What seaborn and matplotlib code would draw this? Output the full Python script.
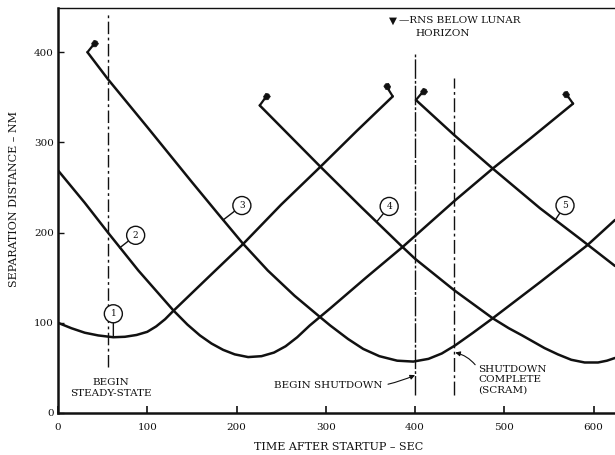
import numpy as np
import pandas as pd
import matplotlib
matplotlib.use('Agg')
import matplotlib.pyplot as plt
import seaborn as sns
from matplotlib.transforms import offset_copy

# ---------------- data ----------------
c1_t = [0, 15, 30, 45, 62, 75, 88, 100, 110, 120, 129, 170, 207, 250, 294, 335, 375]
c1_d = [100, 94, 89, 86, 84, 84.5, 86.5, 90, 96, 104, 113, 152, 187, 231, 273, 313, 351]

c2_t = [0, 30, 56, 90, 129, 145, 159, 172, 185, 198, 213, 228, 242, 255, 268, 282, 305, 345, 386, 444, 487, 530, 577]
c2_d = [269, 233, 200, 158, 114, 98, 86, 77, 70, 65, 62, 63, 67, 74, 84, 97, 116, 150, 184, 235, 271, 305, 343]

c3_t = [33, 56, 100, 150, 180, 207, 235, 265, 294, 305, 325, 342, 360, 380, 398, 415, 430, 445, 465, 487, 540, 593, 624]
c3_d = [400, 370, 317, 256, 220, 188, 158, 130, 106, 97, 82, 71, 63, 58, 57, 60, 66, 75, 89, 105, 145, 186, 214]

c4_t = [226, 260, 294, 340, 386, 400, 444, 487, 505, 520, 545, 560, 575, 590, 605, 615, 624]
c4_d = [341, 307, 273, 228, 184, 171, 136, 105, 94, 86, 72, 65, 59, 56, 56, 58, 61]

c5_t = [401, 444, 487, 540, 585, 624]
c5_d = [347, 308, 271, 227, 193, 163]

curve_ids = ['1', '2', '3', '4', '5']

steady_state_t = 56
begin_shutdown_t = 400
shutdown_complete_t = 444

x_ticks = [0, 100, 200, 300, 400, 500, 600]
x_ticklabels = ['0', '100', '200', '300', '400', '500', '600']
y_ticks = [0, 100, 200, 300, 400]
y_ticklabels = ['0', '100', '200', '300', '400']

# circled curve labels: (label, circle centre, point on curve)
circle_labels = [('1', (62, 110), (62, 84)),
                 ('2', (87, 197), (69, 183)),
                 ('3', (206, 230), (185, 214)),
                 ('4', (371, 229), (357, 212)),
                 ('5', (568, 230), (557, 214))]

# ---------------- build table ----------------
rows = []
for cid, tt, dd in zip(curve_ids, [c1_t, c2_t, c3_t, c4_t, c5_t], [c1_d, c2_d, c3_d, c4_d, c5_d]):
    for t, d in zip(tt, dd):
        rows.append({'curve': cid, 'time': t, 'dist': d})
df = pd.DataFrame(rows)

sns.set_style('ticks')
plt.rcParams['font.family'] = ['DejaVu Serif', 'DejaVu Sans']
ink = '#111111'

fig = plt.figure(figsize=(6.15, 4.55), dpi=100)
ax = fig.add_axes([58 / 615, 1 - 413 / 455, 557 / 615, 405 / 455])

sns.lineplot(data=df, x='time', y='dist', units='curve', estimator=None, sort=False,
             color=ink, lw=1.8, legend=False, ax=ax)

ax.set_xlim(0, 624)
ax.set_ylim(0, 449)

# vertical event lines
ax.vlines(steady_state_t, 51, 442, colors=ink, lw=1.0, linestyles=(0, (9, 2.5, 2, 2.5)))
ax.vlines(begin_shutdown_t, 20, 400, colors=ink, lw=1.0, linestyles=(0, (14, 1.5, 2, 1.5)))
ax.vlines(shutdown_complete_t, 20, 371, colors=ink, lw=1.0, linestyles=(0, (10, 2.5, 2, 2.5)))

# flags (RNS below lunar horizon) at curve ends
def teardrop(angle):
    base = np.array([(-0.3, 0), (0.1, 0.5), (0.8, 0.5), (1.0, 0), (0.8, -0.5), (0.1, -0.5), (-0.3, 0)])
    c, s = np.cos(angle), np.sin(angle)
    rot = base @ np.array([[c, s], [-s, c]])
    return [tuple(v) for v in rot]

flag_specs = [(c3_t[0], c3_d[0], 4.0, 5.0),
              (c4_t[0], c4_d[0], 3.8, 5.2),
              (c5_t[0], c5_d[0], 4.2, 5.0),
              (c1_t[-1], c1_d[-1], -3.6, 5.8),
              (c2_t[-1], c2_d[-1], -4.0, 5.6)]
for ex, ey, dx, dy in flag_specs:
    ax.annotate('', xy=(ex, ey), xytext=(dx, dy), textcoords='offset points',
                arrowprops=dict(arrowstyle='-', lw=1.6, color=ink, shrinkA=0, shrinkB=0))
    tr = offset_copy(ax.transData, fig=fig, x=dx, y=dy, units='points')
    ax.plot([ex], [ey], transform=tr, marker=teardrop(np.arctan2(dy, dx)),
            ms=7.5, color=ink, mec=ink, mew=0.5)

# circled curve numbers
for lab, (cx, cy), (px, py) in circle_labels:
    ax.annotate(lab, xy=(px, py), xytext=(cx, cy), fontsize=6.5, color=ink,
                ha='center', va='center',
                bbox=dict(boxstyle='circle,pad=0.5', fc='white', ec=ink, lw=1.0),
                arrowprops=dict(arrowstyle='-', lw=1.0, color=ink, shrinkA=0, shrinkB=0))

# text annotations
fs = 7.5
ax.text(59, 28, 'BEGIN\nSTEADY-STATE', ha='center', va='center', fontsize=fs,
        color=ink, linespacing=1.35)
ax.annotate('BEGIN SHUTDOWN', xy=(begin_shutdown_t, 42), xytext=(363, 30),
            ha='right', va='center', fontsize=fs, color=ink,
            arrowprops=dict(arrowstyle='-|>', lw=0.8, color=ink, mutation_scale=7,
                            shrinkA=2, shrinkB=0, connectionstyle='arc3,rad=0.15'))
ax.annotate('SHUTDOWN\nCOMPLETE\n(SCRAM)', xy=(shutdown_complete_t + 1, 67), xytext=(471, 37),
            ha='left', va='center', fontsize=fs, color=ink, linespacing=1.2,
            arrowprops=dict(arrowstyle='-|>', lw=0.8, color=ink, mutation_scale=7,
                            shrinkA=0, shrinkB=0, connectionstyle='arc3,rad=0.2',
                            relpos=(0, 0.85)))
ax.text(375, 435, '\u25BC', ha='center', va='center', fontsize=7.5,
        color=ink, family=['DejaVu Sans'])
ax.text(382, 435, '\u2014RNS BELOW LUNAR', ha='left', va='center', fontsize=fs, color=ink)
ax.text(400, 421, 'HORIZON', ha='left', va='center', fontsize=fs, color=ink)

# axes styling
ax.set_xticks(x_ticks)
ax.set_xticklabels(x_ticklabels)
ax.set_yticks(y_ticks)
ax.set_yticklabels(y_ticklabels)
ax.tick_params(axis='x', direction='in', length=5, width=1.2, pad=7, labelsize=7.5, colors=ink)
ax.tick_params(axis='y', direction='in', length=4, width=1.0, pad=3, labelsize=7.5, colors=ink)
for side in ['left', 'bottom']:
    ax.spines[side].set_linewidth(1.8)
    ax.spines[side].set_color(ink)
ax.spines['top'].set_linewidth(1.0)
ax.spines['top'].set_color(ink)
ax.spines['right'].set_visible(False)

ax.set_xlabel('TIME AFTER STARTUP \u2013 SEC', fontsize=8, color=ink)
ax.set_ylabel('SEPARATION DISTANCE \u2013 NM', fontsize=8, color=ink)
ax.yaxis.set_label_coords(-0.07, 0.528)
ax.xaxis.set_label_coords(0.504, -0.072)

fig.savefig('out.png', dpi=100)
